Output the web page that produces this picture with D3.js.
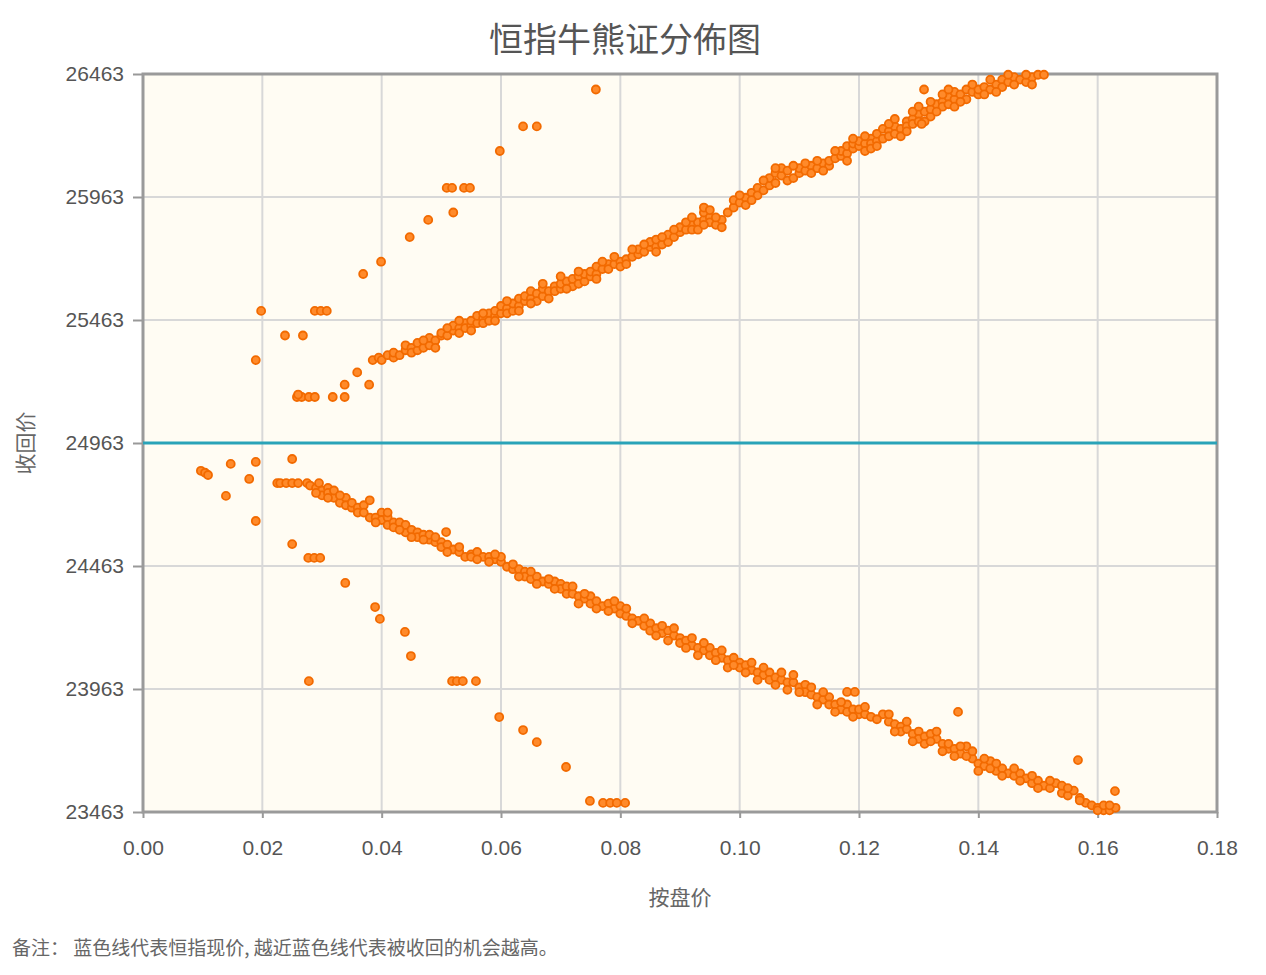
<!DOCTYPE html>
<html>
<head>
<meta charset="utf-8">
<script src="https://cdn.jsdelivr.net/npm/d3@7"></script>
<style>
  body { margin: 0; background: #fff; }
  text { font-family: "Noto Sans CJK SC", "Noto Sans", sans-serif; }
</style>
</head>
<body>
<div class="container"></div>
<script>
const WIDTH = 1266;
const HEIGHT = 975;
const M = { left: 143, top: 74, right: 1217, bottom: 812 };

var currentPrice = 24963;
var xTicks = [0, 0.02, 0.04, 0.06, 0.08, 0.10, 0.12, 0.14, 0.16, 0.18];
var yTicks = [23463, 23963, 24463, 24963, 25463, 25963, 26463];

// 熊证 (收回价高于现价): [按盘价, 收回价]
var bearPoints = [
  [0.0189,25300],[0.0198,25500],[0.0238,25400],[0.0268,25400],
  [0.0288,25500],[0.0298,25500],[0.0308,25500],
  [0.0258,25150],[0.0266,25150],[0.0278,25150],[0.0288,25150],[0.0260,25160],
  [0.0318,25150],[0.0338,25150],[0.0338,25200],[0.0359,25250],[0.0379,25200],
  [0.0369,25650],[0.0399,25700],[0.0447,25800],[0.0478,25870],[0.0520,25900],
  [0.0509,26000],[0.0518,26000],[0.0538,26000],[0.0548,26000],
  [0.0598,26150],[0.0637,26250],[0.0660,26250],[0.0759,26400],
  [0.1309,26400],[0.1357,26380],
  [0.0385,25300],[0.0395,25310],[0.040,25300],[0.041,25320],[0.042,25310],[0.042,25330],
  [0.043,25320],[0.044,25340],[0.044,25360],[0.045,25350],[0.045,25330],[0.046,25340],
  [0.046,25370],[0.047,25350],[0.048,25360],[0.048,25390],[0.049,25380],[0.050,25400],
  [0.050,25410],[0.051,25400],[0.052,25420],[0.052,25440],[0.053,25430],[0.053,25410],
  [0.054,25450],[0.054,25430],[0.055,25440],[0.055,25460],[0.056,25450],[0.056,25480],
  [0.057,25470],[0.057,25450],[0.058,25490],[0.058,25460],[0.059,25480],[0.059,25500],
  [0.060,25490],[0.060,25520],[0.061,25510],[0.061,25490],[0.062,25500],[0.062,25530],
  [0.063,25520],[0.063,25550],[0.064,25540],[0.064,25560],[0.065,25550],[0.065,25580],
  [0.066,25570],[0.066,25540],[0.067,25560],[0.067,25590],[0.068,25580],[0.069,25600],
  [0.069,25580],[0.070,25590],[0.070,25610],[0.071,25620],[0.072,25600],[0.072,25630],
  [0.073,25640],[0.073,25610],[0.074,25620],[0.074,25650],[0.075,25640],[0.075,25660],
  [0.076,25650],[0.076,25680],[0.077,25670],[0.078,25690],[0.078,25670],[0.079,25690],
  [0.080,25700],[0.080,25680],[0.081,25710],[0.082,25720],[0.083,25730],[0.083,25750],
  [0.084,25740],[0.085,25760],[0.085,25780],[0.086,25760],[0.086,25790],[0.087,25770],
  [0.088,25780],[0.088,25810],[0.089,25800],[0.090,25820],[0.090,25840],[0.091,25830],
  [0.092,25850],[0.092,25830],[0.093,25860],[0.094,25870],[0.094,25900],[0.095,25880],
  [0.095,25860],[0.096,25850],[0.097,25870],[0.098,25900],[0.099,25920],[0.099,25950],
  [0.100,25940],[0.101,25960],[0.101,25930],[0.102,25980],[0.103,26000],[0.103,25970],
  [0.104,25990],[0.105,26010],[0.105,26040],[0.106,26020],[0.106,26060],[0.107,26050],
  [0.107,26080],[0.108,26030],[0.109,26040],[0.110,26060],[0.110,26080],[0.111,26070],
  [0.112,26090],[0.112,26060],[0.113,26080],[0.114,26100],[0.115,26090],[0.115,26110],
  [0.116,26120],[0.117,26130],[0.117,26150],[0.118,26140],[0.118,26170],[0.119,26160],
  [0.119,26180],[0.120,26170],[0.120,26190],[0.121,26180],[0.121,26150],[0.122,26200],
  [0.122,26180],[0.123,26190],[0.123,26220],[0.124,26200],[0.124,26240],[0.125,26230],
  [0.125,26210],[0.126,26250],[0.126,26220],[0.127,26240],[0.128,26270],[0.128,26250],
  [0.129,26280],[0.129,26260],[0.130,26300],[0.130,26270],[0.131,26310],[0.132,26290],
  [0.132,26320],[0.133,26340],[0.134,26350],[0.134,26330],[0.135,26370],[0.135,26340],
  [0.136,26360],[0.136,26390],[0.137,26380],[0.138,26360],[0.138,26400],[0.139,26390],
  [0.140,26380],[0.140,26400],[0.141,26410],[0.142,26400],[0.143,26420],[0.144,26440],
  [0.144,26410],[0.145,26430],[0.146,26450],[0.147,26440],[0.148,26430],[0.149,26450],
  [0.150,26460],[0.151,26460],
  [0.047,25380],[0.049,25350],[0.051,25430],[0.053,25460],[0.055,25420],[0.057,25490],
  [0.059,25460],[0.061,25540],[0.063,25500],[0.065,25530],[0.067,25610],[0.068,25550],
  [0.070,25640],[0.071,25590],[0.073,25660],[0.076,25630],[0.077,25700],[0.079,25720],
  [0.081,25690],[0.082,25750],[0.084,25770],[0.086,25740],[0.087,25800],[0.089,25830],
  [0.091,25860],[0.093,25830],[0.094,25920],[0.095,25910],[0.096,25880],[0.097,25840],
  [0.100,25970],[0.102,25950],[0.104,26030],[0.106,26080],[0.108,26070],[0.109,26090],
  [0.111,26100],[0.113,26110],[0.114,26070],[0.116,26150],[0.118,26110],[0.119,26200],
  [0.121,26210],[0.122,26160],[0.123,26170],[0.125,26260],[0.126,26280],[0.127,26210],
  [0.128,26230],[0.129,26310],[0.130,26330],[0.131,26270],[0.132,26350],[0.133,26310],
  [0.134,26380],[0.135,26400],[0.136,26330],[0.137,26350],[0.139,26420],[0.141,26380],
  [0.142,26440],[0.143,26390],[0.145,26460],[0.146,26420],[0.148,26460],[0.149,26420],
  [0.092,25880],[0.094,25850],[0.1305,26260]
];

// 牛证 (收回价低于现价): [按盘价, 收回价]
var bullPoints = [
  [0.0097,24850],[0.0104,24842],[0.0109,24833],[0.0147,24878],[0.0189,24886],
  [0.0178,24817],[0.0139,24748],[0.0189,24646],[0.0250,24898],
  [0.0250,24552],[0.0277,24496],[0.0287,24496],[0.0297,24496],
  [0.0339,24394],[0.0389,24296],[0.0397,24248],[0.0439,24195],[0.0449,24097],
  [0.0278,23995],[0.0518,23995],[0.0526,23995],[0.0536,23995],[0.0558,23995],
  [0.0597,23849],[0.0637,23796],[0.0660,23747],[0.0709,23646],
  [0.0749,23508],[0.0771,23500],[0.0783,23500],[0.0794,23500],[0.0808,23500],
  [0.0508,24601],[0.1366,23870],[0.1567,23674],[0.1629,23548],[0.1180,23951],[0.1193,23951],
  [0.0225,24800],[0.023,24800],[0.024,24800],[0.025,24800],[0.026,24800],[0.0275,24800],
  [0.028,24790],[0.029,24780],[0.0295,24800],[0.030,24770],[0.030,24750],[0.031,24780],
  [0.031,24760],[0.032,24740],[0.032,24770],[0.033,24720],[0.034,24740],[0.034,24710],
  [0.035,24700],[0.035,24720],[0.036,24700],[0.037,24710],[0.038,24730],[0.038,24660],
  [0.039,24660],[0.040,24680],[0.040,24650],[0.041,24660],[0.041,24630],[0.042,24640],
  [0.042,24620],[0.043,24640],[0.044,24600],[0.044,24630],[0.045,24610],[0.046,24600],
  [0.046,24580],[0.047,24590],[0.048,24570],[0.048,24590],[0.049,24560],[0.050,24560],
  [0.050,24540],[0.051,24550],[0.052,24530],[0.053,24520],[0.054,24500],[0.055,24510],
  [0.055,24500],[0.056,24520],[0.057,24500],[0.058,24500],[0.059,24490],[0.060,24480],
  [0.060,24500],[0.061,24460],[0.062,24450],[0.063,24450],[0.064,24440],[0.064,24420],
  [0.065,24410],[0.066,24420],[0.067,24400],[0.068,24390],[0.069,24400],[0.070,24390],
  [0.070,24370],[0.071,24380],[0.071,24350],[0.072,24350],[0.073,24340],[0.074,24330],
  [0.075,24340],[0.075,24310],[0.076,24320],[0.077,24300],[0.078,24310],[0.079,24290],
  [0.080,24300],[0.080,24270],[0.081,24260],[0.082,24250],[0.083,24240],[0.084,24220],
  [0.085,24230],[0.085,24200],[0.086,24210],[0.087,24190],[0.088,24200],[0.089,24180],
  [0.090,24170],[0.090,24150],[0.091,24160],[0.092,24140],[0.093,24130],[0.094,24120],
  [0.095,24130],[0.095,24100],[0.096,24110],[0.097,24090],[0.098,24080],[0.099,24090],
  [0.100,24070],[0.100,24050],[0.101,24060],[0.102,24040],[0.103,24030],[0.104,24020],
  [0.105,24030],[0.105,24000],[0.106,24010],[0.107,24000],[0.108,23990],[0.109,23990],
  [0.110,23970],[0.111,23980],[0.111,23950],[0.112,23940],[0.113,23930],[0.114,23920],
  [0.115,23930],[0.115,23900],[0.116,23900],[0.117,23880],[0.118,23900],[0.118,23870],
  [0.119,23880],[0.120,23860],[0.120,23880],[0.121,23860],[0.122,23850],[0.124,23860],
  [0.125,23830],[0.126,23820],[0.127,23810],[0.127,23790],[0.128,23800],[0.129,23780],
  [0.130,23790],[0.130,23760],[0.131,23770],[0.132,23780],[0.133,23760],[0.134,23740],
  [0.135,23720],[0.135,23740],[0.136,23720],[0.137,23700],[0.138,23730],[0.139,23680],
  [0.140,23660],[0.141,23650],[0.142,23670],[0.143,23630],[0.144,23640],[0.145,23620],
  [0.146,23610],[0.147,23620],[0.148,23600],[0.149,23580],[0.150,23590],[0.151,23570],
  [0.152,23560],[0.153,23580],[0.154,23540],[0.155,23530],[0.156,23550],[0.157,23520],
  [0.158,23500],[0.159,23490],[0.160,23480],[0.161,23470],[0.162,23470],[0.163,23480],
  [0.029,24760],[0.031,24740],[0.033,24750],[0.036,24680],[0.037,24680],[0.039,24640],
  [0.041,24680],[0.043,24610],[0.045,24580],[0.047,24570],[0.049,24580],[0.051,24520],
  [0.053,24540],[0.056,24490],[0.058,24480],[0.059,24510],[0.062,24470],[0.063,24420],
  [0.065,24440],[0.066,24390],[0.068,24410],[0.069,24370],[0.072,24380],[0.073,24310],
  [0.074,24350],[0.076,24290],[0.078,24280],[0.079,24320],[0.081,24290],[0.082,24230],
  [0.084,24250],[0.086,24180],[0.087,24220],[0.088,24160],[0.089,24210],[0.091,24130],
  [0.092,24170],[0.093,24100],[0.094,24150],[0.096,24080],[0.097,24120],[0.098,24050],
  [0.099,24060],[0.101,24030],[0.102,24070],[0.103,24000],[0.104,24050],[0.106,23980],
  [0.107,24030],[0.108,23960],[0.109,24020],[0.110,23950],[0.112,23970],[0.113,23900],
  [0.114,23950],[0.116,23870],[0.117,23910],[0.119,23850],[0.121,23890],[0.123,23840],
  [0.125,23860],[0.126,23790],[0.128,23830],[0.129,23750],[0.131,23740],[0.132,23750],
  [0.133,23790],[0.134,23710],[0.136,23690],[0.137,23730],[0.138,23690],[0.139,23710],
  [0.140,23630],[0.141,23680],[0.142,23640],[0.143,23660],[0.144,23610],[0.146,23640],
  [0.147,23590],[0.149,23610],[0.150,23560],[0.152,23590],[0.154,23570],[0.155,23560],
  [0.157,23510],[0.160,23470],[0.161,23490],[0.162,23490]
];

var svg, x, y;

var drawChart = function(){
  svg = d3.select(".container").append("svg")
      .attr("width", WIDTH)
      .attr("height", HEIGHT);

  x = d3.scaleLinear().domain([0, 0.18]).range([M.left, M.right]);
  y = d3.scaleLinear().domain([23463, 26463]).range([M.bottom, M.top]);

  // plot background
  svg.append("rect")
      .attr("x", M.left).attr("y", M.top)
      .attr("width", M.right - M.left).attr("height", M.bottom - M.top)
      .attr("fill", "#fffcf3");

  // grid
  svg.append("g").selectAll("line").data(xTicks.slice(1, -1)).join("line")
      .attr("x1", d => x(d)).attr("x2", d => x(d))
      .attr("y1", M.top).attr("y2", M.bottom)
      .attr("stroke", "#d8d8d8").attr("stroke-width", 2);
  svg.append("g").selectAll("line").data(yTicks.slice(1, -1)).join("line")
      .attr("x1", M.left).attr("x2", M.right)
      .attr("y1", d => y(d)).attr("y2", d => y(d))
      .attr("stroke", "#d8d8d8").attr("stroke-width", 2);

  // axes
  var xAxis = svg.append("g")
      .attr("transform", "translate(0," + M.bottom + ")")
      .call(d3.axisBottom(x).tickValues(xTicks).tickFormat(d3.format(".2f")).tickSize(6).tickPadding(22));
  var yAxis = svg.append("g")
      .attr("transform", "translate(" + M.left + ",0)")
      .call(d3.axisLeft(y).tickValues(yTicks).tickFormat(d => d).tickSize(10).tickPadding(9));
  [xAxis, yAxis].forEach(function(g){
    g.select(".domain").remove();
    g.selectAll(".tick line").attr("stroke", "#999").attr("stroke-width", 2);
    g.selectAll(".tick text")
        .attr("fill", "#555")
        .style("font-family", "'Liberation Sans', Arial, sans-serif")
        .style("font-size", "21px");
  });

  // frame
  svg.append("rect")
      .attr("x", M.left).attr("y", M.top)
      .attr("width", M.right - M.left).attr("height", M.bottom - M.top)
      .attr("fill", "none")
      .attr("stroke", "#9a9a9a").attr("stroke-width", 3);

  // current price line
  svg.append("line")
      .attr("x1", M.left).attr("x2", M.right)
      .attr("y1", y(currentPrice)).attr("y2", y(currentPrice))
      .attr("stroke", "#2aa3b8").attr("stroke-width", 3);

  // points
  var pts = bearPoints.concat(bullPoints);
  svg.append("g").selectAll("circle").data(pts).join("circle")
      .attr("cx", d => x(d[0]))
      .attr("cy", d => y(d[1]))
      .attr("r", 4)
      .attr("fill", "#ff8a2a")
      .attr("stroke", "#f26a00")
      .attr("stroke-width", 1.8);

  // texts
  svg.append("text")
      .attr("x", 625).attr("y", 52)
      .attr("text-anchor", "middle")
      .attr("fill", "#555").style("font-size", "34px")
      .text("恒指牛熊证分佈图");

  svg.append("text")
      .attr("transform", "translate(33," + y(currentPrice) + ") rotate(-90)")
      .attr("text-anchor", "middle")
      .attr("fill", "#666").style("font-size", "21px")
      .text("收回价");

  svg.append("text")
      .attr("x", 680).attr("y", 905)
      .attr("text-anchor", "middle")
      .attr("fill", "#666").style("font-size", "21px")
      .text("按盘价");

  svg.append("text")
      .attr("x", 12).attr("y", 955)
      .attr("fill", "#666").style("font-size", "19px")
      .text("备注：  蓝色线代表恒指现价, 越近蓝色线代表被收回的机会越高。");
}

window.onload = drawChart;
</script>
</body>
</html>
